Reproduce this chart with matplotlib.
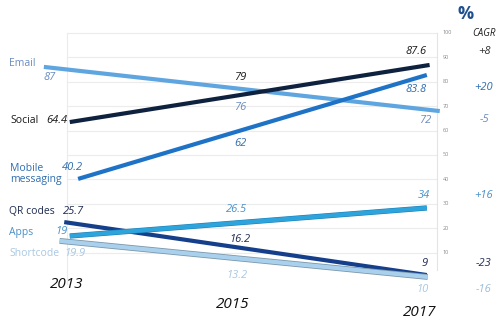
import numpy as np
import matplotlib
matplotlib.use('Agg')
import matplotlib.pyplot as plt
import matplotlib.patheffects as pe

plt.rcParams['font.family'] = ['Open Sans', 'DejaVu Sans']

# --- data ---
series = ['Email', 'Social', 'Mobile\nmessaging', 'QR codes', 'Apps', 'Shortcode']
years = [2013, 2017]
# line positions as drawn on the % scale
line_2013 = [86.1, 63.5, 40.2, 22.5, 16.8, 14.8]
line_2017 = [68.0, 86.9, 82.8, 0.8, 28.3, 0.0]
# printed values
lab_2013 = ['87', '64.4', '40.2', '25.7', '19', '19.9']
lab_2015 = ['76', '79', '62', '16.2', '26.5', '13.2']
lab_2017 = ['72', '87.6', '83.8', '9', '34', '10']
cagr = ['-5', '+8', '+20', '-23', '+16', '-16']
yticks = [10, 20, 30, 40, 50, 60, 70, 80, 90, 100]

# --- styles ---
line_col = ['#5fa6e0', '#0e2240', '#1f73c6', '#153f8b', '#2ea4dd', '#a9d1ee']
text_col = ['#6a8cbf', '#1a1a1a', '#2e6db0', '#1d2b50', '#4a90c8', '#a9c8e2']
x_shift = [-0.25, 0.03, 0.12, -0.03, 0.03, -0.08]
x_end_shift = [0.03, -0.08, -0.11, -0.11, -0.11, -0.1]

W, H = 499, 327
fig = plt.figure(figsize=(W / 100, H / 100), dpi=100)
ax = fig.add_axes([0, 0, 1, 1])
# pixel mapping: 2013 -> x=67, 2017 -> x=437 ; 0% -> y=277, 10% = 24.4 px
ax.set_xlim(2013 - 67 / 92.5, 2013 + (W - 67) / 92.5)
ax.set_ylim((277 - H) / 2.44, 277 / 2.44)
ax.axis('off')


def px(x, y):
    return x / W, 1 - y / H


# grid
for t in yticks:
    ax.plot([2013, 2017], [t, t], color='#ececec', lw=0.8, zorder=0)
    ax.text(2017.06, t, str(t), fontsize=4, color='#888888', va='center', ha='left')
ax.plot([2013, 2013], [-3, 100], color='#ececec', lw=0.8, zorder=0)
ax.plot([2017, 2017], [3, 100], color='#e4e4e4', lw=0.8, zorder=0)

for i, name in enumerate(series):
    xs = [years[0] + x_shift[i], years[1] + x_end_shift[i]]
    ys = [line_2013[i], line_2017[i]]
    effects = None
    if name == 'Shortcode':
        effects = [pe.Stroke(linewidth=4.2, foreground='#7c97aa'), pe.Normal()]
    elif name == 'Apps':
        effects = [pe.Stroke(linewidth=3.8, foreground='#1f7fb5'), pe.Normal()]
    ax.plot(xs, ys, color=line_col[i], lw=3.0, solid_capstyle='butt',
            path_effects=effects, zorder=3)

# left labels
left_pos = [(9, 63), (10, 121), (10, 174), (9, 211), (9, 232), (9, 253)]
for i, name in enumerate(series):
    x, y = px(*left_pos[i])
    fig.text(x, y, name, fontsize=7.5, color=text_col[i], ha='left', va='center',
             linespacing=0.95)

pos_2013 = [(44, 77), (46, 121), (62, 168), (63, 211), (55, 232), (64, 253)]
pos_2015 = [(240, 107), (240, 78), (240, 143), (240, 240), (237, 210), (237, 276)]
pos_2017 = [(425, 121), (416, 52), (416, 89), (425, 263), (424, 196), (423, 289)]
for i in range(len(series)):
    for labs, pos in ((lab_2013, pos_2013), (lab_2015, pos_2015), (lab_2017, pos_2017)):
        x, y = px(*pos[i])
        fig.text(x, y, labs[i], fontsize=8, style='italic', color=text_col[i],
                 ha='left' if pos is pos_2013 else 'center', va='center')

# CAGR column
cagr_y = [120, 52, 88, 263, 196, 289]
cagr_col = ['#6a8cbf', '#333333', '#2e6db0', '#1d2b50', '#4a90c8', '#9bbcd8']
for i in range(len(series)):
    x, y = px(484, cagr_y[i])
    fig.text(x, y, cagr[i], fontsize=8, style='italic', color=cagr_col[i],
             ha='center', va='center')
x, y = px(466, 14)
fig.text(x, y, '%', fontsize=13, fontweight='bold', color='#1f4f8f', ha='center', va='center')
x, y = px(484, 34)
fig.text(x, y, 'CAGR', fontsize=7, style='italic', color='#222222', ha='center', va='center')

# years
for yr, (xp, yp) in zip([2013, 2015, 2017], [(67, 284), (233, 305), (420, 313)]):
    x, y = px(xp, yp)
    fig.text(x, y, str(yr), fontsize=11, style='italic', color='#111111',
             ha='center', va='center')

fig.savefig('out.png', dpi=100)
